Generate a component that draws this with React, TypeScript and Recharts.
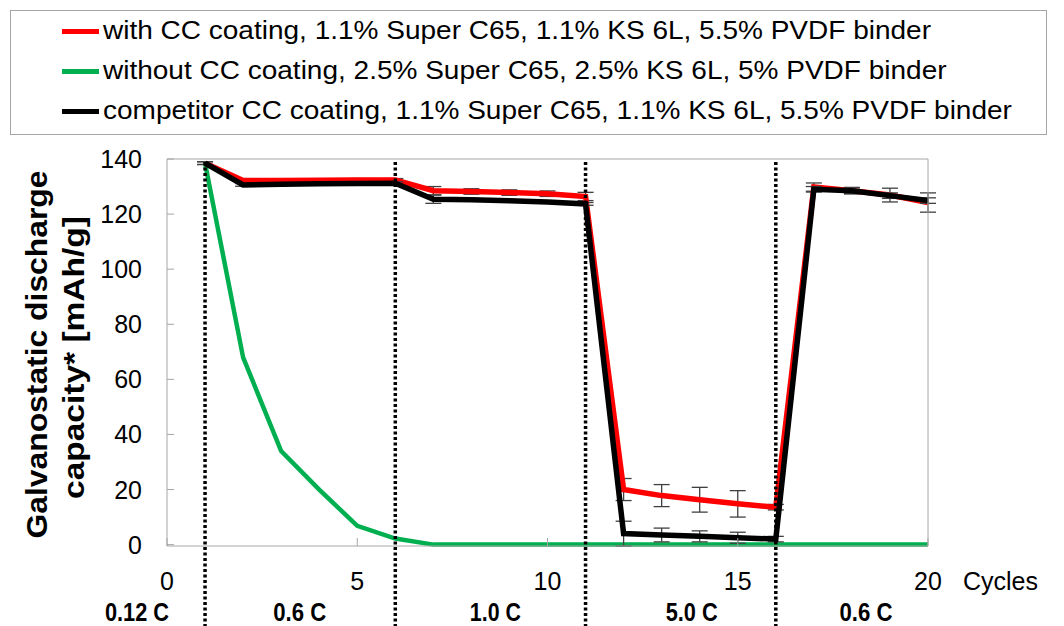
import React from "react";
import {
  LineChart,
  Line,
  XAxis,
  YAxis,
  ErrorBar,
  ReferenceLine,
  Label,
} from "recharts";

// cycle numbers and measured capacities [mAh/g]
const cycles = [1, 2, 3, 4, 5, 6, 7, 8, 9, 10, 11, 12, 13, 14, 15, 16, 17, 18, 19, 20];
const withCC = [138.5, 132.2, 132.2, 132.3, 132.4, 132.4, 128.5, 128.2, 127.8, 127.4, 126.4, 20, 17.8, 16.3, 14.8, 13.6, 129.8, 128.5, 126.9, 124.2];
const withCCErr = [0.5, 0.5, 0.5, 0.5, 0.5, 0.5, 1.5, 1, 1, 1, 1.5, 4, 4, 4.5, 4.8, 1, 1.5, 1.2, 2.5, 3.5];
const withoutCC = [138.5, 68, 34, 20, 6.8, 2.2, 0, 0, 0, 0, 0, 0, 0, 0, 0, 0, 0, 0, 0, 0];
const competitor = [138.5, 130.6, 130.8, 131, 131.1, 131.2, 125.4, 125.2, 124.8, 124.4, 123.7, 4, 3.5, 3, 2.5, 2, 129, 128.5, 126.7, 124.9];
const competitorErr = [0.5, 0.5, 0.5, 0.5, 0.5, 0.5, 1.5, 0.5, 0.5, 0.5, 0.5, 4.5, 2.5, 2, 2, 1, 1, 1, 1, 1];

const xTicks = [0, 5, 10, 15, 20];
const yTicks = [0, 20, 40, 60, 80, 100, 120, 140];
const rateChanges = [1, 6, 11, 16];
// C-rate labels below the axis (position in cycles, text, text width)
const rateLabelPos = [-0.79, 3.49, 8.63, 13.79, 18.37];
const rateLabelText = ["0.12 C", "0.6 C", "1.0 C", "5.0 C", "0.6 C"];
const rateLabelWidth = [64, 53, 51, 52, 53];

const seriesNames = [
  "with CC coating, 1.1% Super C65, 1.1% KS 6L, 5.5% PVDF binder",
  "without CC coating, 2.5% Super C65, 2.5% KS 6L, 5% PVDF binder",
  "competitor CC coating, 1.1% Super C65, 1.1% KS 6L, 5.5% PVDF binder",
];
const seriesColors = ["#ff0000", "#00b050", "#000000"];

const AXIS = "#a6a6a6";
const FONT = "'Liberation Sans', Arial, sans-serif";

const data = cycles.map((c, i) => ({
  x: c,
  withCC: withCC[i],
  withCCErr: withCCErr[i],
  withoutCC: withoutCC[i],
  competitor: competitor[i],
  competitorErr: competitorErr[i],
}));

const XTick = ({ x, y, payload }: any) => (
  <g>
    <line x1={x} y1={y} x2={x} y2={y - 8} stroke={AXIS} strokeWidth={1} />
    <text x={x} y={y + 43.5} textAnchor="middle" fontSize={25} fill="#000" fontFamily={FONT}>
      {payload.value}
    </text>
  </g>
);

const YTick = ({ x, y, payload }: any) => (
  <g>
    <line x1={x} y1={y} x2={x + 7} y2={y} stroke={AXIS} strokeWidth={1} />
    <text x={x - 25} y={y + 9} textAnchor="end" fontSize={25} fill="#000" fontFamily={FONT}>
      {payload.value}
    </text>
  </g>
);

const DottedLine = (props: any) => {
  const top = Math.min(props.y1, props.y2);
  const bottom = Math.max(props.y1, props.y2);
  return (
    <line
      x1={props.x1}
      x2={props.x2}
      y1={top + 3}
      y2={bottom + 80}
      stroke="#000"
      strokeWidth={3.5}
      strokeDasharray="3 2.5"
    />
  );
};

const XExtras = ({ viewBox }: any) => {
  const { x, y, width } = viewBox;
  return (
    <g fontFamily={FONT}>
      <text x={x + width + 35} y={y + 43.5} fontSize={25} fill="#000">
        Cycles
      </text>
      {rateLabelText.map((t, i) => (
        <text
          key={i}
          x={x + (rateLabelPos[i] * width) / 20}
          y={y + 75}
          textAnchor="middle"
          fontSize={25}
          fontWeight="bold"
          fill="#000"
          textLength={rateLabelWidth[i]}
          lengthAdjust="spacingAndGlyphs"
        >
          {t}
        </text>
      ))}
    </g>
  );
};

const YTitle = ({ viewBox }: any) => {
  const cy = viewBox.y + viewBox.height / 2;
  return (
    <g fontFamily={FONT} fontWeight="bold" fontSize={30} fill="#000">
      <text
        transform={`translate(46.5, ${cy + 2}) rotate(-90)`}
        textAnchor="middle"
        textLength={368}
        lengthAdjust="spacingAndGlyphs"
      >
        Galvanostatic discharge
      </text>
      <text
        transform={`translate(83.5, ${cy + 5}) rotate(-90)`}
        textAnchor="middle"
        textLength={283}
        lengthAdjust="spacingAndGlyphs"
      >
        capacity* [mAh/g]
      </text>
    </g>
  );
};

export default function App() {
  return (
    <div style={{ position: "absolute", left: 0, top: 0, width: 1064, height: 626, fontFamily: FONT }}>
      <LineChart
        width={1064}
        height={626}
        data={data}
        margin={{ top: 149, right: 135, bottom: 50, left: 107 }}
      >
        <XAxis
          xAxisId="top"
          orientation="top"
          type="number"
          domain={[0, 20]}
          height={10}
          tick={false}
          tickLine={false}
          axisLine={{ stroke: AXIS }}
        />
        <YAxis
          yAxisId="right"
          orientation="right"
          type="number"
          domain={[0, 140]}
          width={1}
          tick={false}
          tickLine={false}
          axisLine={{ stroke: AXIS }}
        />
        <XAxis
          dataKey="x"
          type="number"
          domain={[0, 20]}
          ticks={xTicks}
          tickSize={0}
          tickMargin={0}
          tickLine={false}
          tick={<XTick />}
          axisLine={{ stroke: AXIS }}
          height={30}
          allowDataOverflow
        >
          <Label content={<XExtras />} />
        </XAxis>
        <YAxis
          type="number"
          domain={[0, 140]}
          ticks={yTicks}
          tickSize={0}
          tickMargin={0}
          tickLine={false}
          tick={<YTick />}
          axisLine={{ stroke: AXIS }}
          width={60}
        >
          <Label content={<YTitle />} />
        </YAxis>
        <Line
          dataKey="withoutCC"
          stroke={seriesColors[1]}
          strokeWidth={4.5}
          dot={false}
          isAnimationActive={false}
        />
        <Line
          dataKey="withCC"
          stroke={seriesColors[0]}
          strokeWidth={5.5}
          dot={false}
          isAnimationActive={false}
        >
          <ErrorBar dataKey="withCCErr" width={8} stroke="#404040" strokeWidth={1.3} direction="y" isAnimationActive={false} />
        </Line>
        <Line
          dataKey="competitor"
          stroke={seriesColors[2]}
          strokeWidth={5.5}
          dot={false}
          isAnimationActive={false}
        >
          <ErrorBar dataKey="competitorErr" width={8} stroke="#404040" strokeWidth={1.3} direction="y" isAnimationActive={false} />
        </Line>
        {rateChanges.map((c) => (
          <ReferenceLine key={c} x={c} shape={<DottedLine />} />
        ))}
      </LineChart>

      {/* legend box */}
      <div
        style={{
          position: "absolute",
          left: 10,
          top: 10,
          width: 1037,
          height: 125,
          boxSizing: "border-box",
          border: `1px solid ${AXIS}`,
        }}
      />
      {seriesNames.map((name, i) => (
        <div key={i}>
          <div
            style={{
              position: "absolute",
              left: 62,
              top: 28.5 + 40 * i,
              width: 37,
              height: 5,
              background: seriesColors[i],
            }}
          />
          <div
            style={{
              position: "absolute",
              left: 102.5,
              top: 10 + 40 * i,
              height: 40,
              lineHeight: "40px",
              fontSize: 25,
              whiteSpace: "nowrap",
              color: "#000",
              transform: "scaleX(1.12)",
              transformOrigin: "left center",
            }}
          >
            {name}
          </div>
        </div>
      ))}
    </div>
  );
}
